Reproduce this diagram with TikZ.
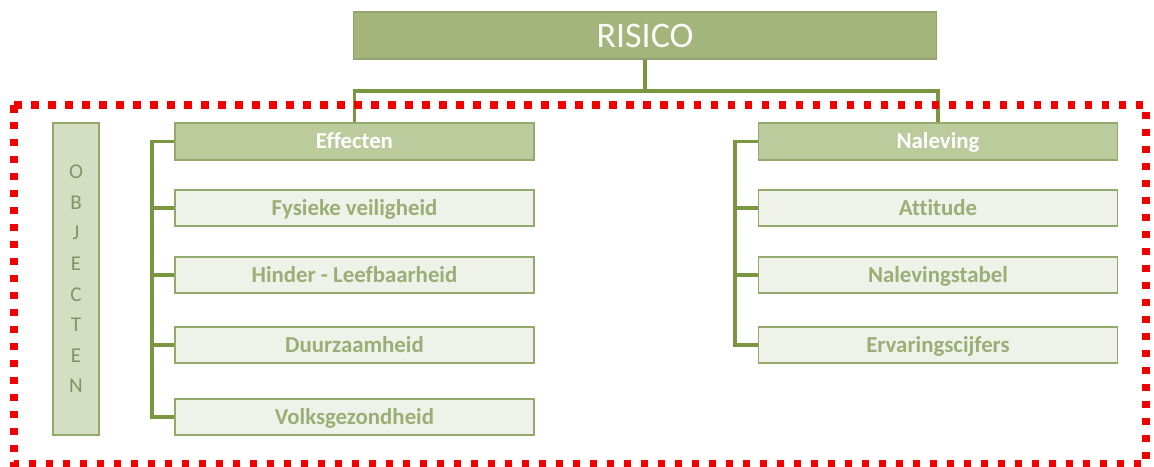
\documentclass[tikz,border=0pt]{standalone}
\usepackage{fontspec}
\setmainfont{Carlito}[Ligatures=NoCommon]
\usetikzlibrary{calc,positioning}

\definecolor{olijf}{HTML}{7A9640}
\definecolor{risicogroen}{HTML}{A3B57B}
\definecolor{kopgroen}{HTML}{BCCB9C}
\definecolor{kaderrand}{HTML}{94AA6C}
\definecolor{itemvlak}{HTML}{EEF2E8}
\definecolor{itemtekst}{HTML}{9AAE76}
\definecolor{objvlak}{HTML}{D4DEC2}
\definecolor{stippelrood}{HTML}{F00000}

\begin{document}
\begin{tikzpicture}[
    x=0.02cm, y=-0.02cm,
    hoofd/.style={draw=risicogroen!90!black, line width=0.6pt, fill=risicogroen,
      text=white!95!risicogroen, minimum width=11.68cm, minimum height=0.94cm,
      inner sep=0pt, text height=13.2pt, text depth=0pt,
      font=\fontsize{20.5}{24}\selectfont},
    kop/.style={draw=kaderrand, line width=0.9pt, fill=kopgroen, text=white,
      minimum width=7.18cm, minimum height=0.74cm, inner sep=0pt,
      text height=8.6pt, text depth=0.6pt,
      font=\fontsize{13}{15}\selectfont\bfseries},
    item/.style={draw=kaderrand, line width=0.9pt, fill=itemvlak, text=itemtekst,
      minimum width=7.18cm, minimum height=0.72cm, inner sep=0pt,
      text height=8.6pt, text depth=0.6pt,
      font=\fontsize{13}{15}\selectfont\bfseries},
    objbox/.style={draw=kaderrand, line width=0.9pt, fill=objvlak, text=itemtekst!85!black,
      minimum width=0.92cm, minimum height=6.24cm, inner sep=0pt, align=center,
      font=\fontsize{12}{17.4}\selectfont},
    tak/.style={draw=olijf, line width=1.8pt},
    kader/.style={draw=stippelrood, line width=0.15cm, dash pattern=on 0.15cm off 0.19cm}]

    \useasboundingbox (0,0) rectangle (1154,467);

    % vertices

    \node[hoofd] (risico) at (645,35.5) {RISICO};

    \node[objbox] (objecten) at (76,279) {O\\B\\J\\E\\C\\T\\E\\N};

    \node[kop] (effecten) at (354.5,141.5) {Effecten};
    \node[item] (fysiek) at (354.5,208) {Fysieke veiligheid};
    \node[item] (hinder) at (354.5,275) {Hinder - Leefbaarheid};
    \node[item] (duurzaam) at (354.5,345) {Duurzaamheid};
    \node[item] (volks) at (354.5,417) {Volksgezondheid};

    \node[kop] (naleving) at (938,141.5) {Naleving};
    \node[item] (attitude) at (938,208) {Attitude};
    \node[item] (tabel) at (938,275) {Nalevingstabel};
    \node[item] (cijfers) at (938,345) {Ervaringscijfers};

    \coordinate (splits) at (645,91);
    \coordinate (stamL) at (152,141.5);
    \coordinate (stamR) at (735,141.5);

    % edges

    \draw[tak] (risico) -- (splits);
    \draw[tak] (splits) -| (effecten);
    \draw[tak] (splits) -| (naleving);

    \draw[tak] (effecten) -- (stamL) |- (volks);
    \draw[tak] (fysiek) -- (fysiek -| stamL);
    \draw[tak] (hinder) -- (hinder -| stamL);
    \draw[tak] (duurzaam) -- (duurzaam -| stamL);

    \draw[tak] (naleving) -- (stamR) |- (cijfers);
    \draw[tak] (attitude) -- (attitude -| stamR);
    \draw[tak] (tabel) -- (tabel -| stamR);

    % dotted frame

    \draw[kader] (14,105) rectangle (1146,464);
  \end{tikzpicture}
\end{document}
